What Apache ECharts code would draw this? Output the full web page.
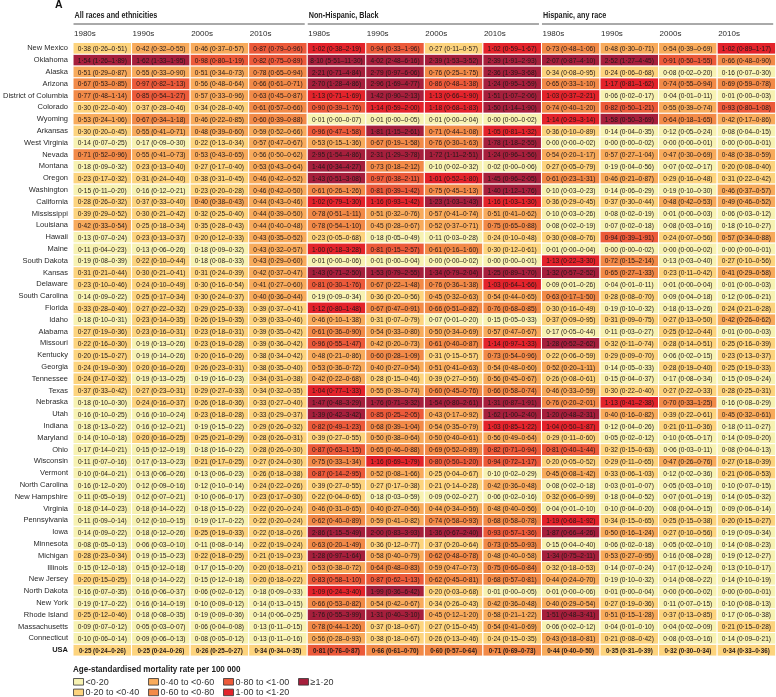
<!DOCTYPE html>
<html><head><meta charset="utf-8">
<script src="https://cdn.jsdelivr.net/npm/echarts@6/dist/echarts.min.js"></script>
<style>html,body{margin:0;padding:0;background:#fff}#c{width:776px;height:697px}</style>
</head><body><div id="c"></div>
<script>
const states = ['New Mexico','Oklahoma','Alaska','Arizona','District of Columbia','Colorado','Wyoming','Arkansas','West Virginia','Nevada','Montana','Oregon','Washington','California','Mississippi','Louisiana','Hawaii','Maine','South Dakota','Kansas','Delaware','South Carolina','Florida','Idaho','Alabama','Missouri','Kentucky','Georgia','Tennessee','Texas','Nebraska','Utah','Indiana','Maryland','Ohio','Wisconsin','Vermont','North Carolina','New Hampshire','Virginia','Pennsylvania','Iowa','Minnesota','Michigan','Illinois','New Jersey','North Dakota','New York','Rhode Island','Massachusetts','Connecticut','USA'];
const groups = ['All races and ethnicities','Non-Hispanic, Black','Hispanic, any race'];
const decades = ['1980s','1990s','2000s','2010s'];
// each row: [est, lo, hi] x 4 decades
const allRaces = [
[0.38,0.26,0.51, 0.42,0.32,0.55, 0.46,0.37,0.57, 0.87,0.79,0.96],
[1.54,1.26,1.89, 1.62,1.33,1.95, 0.98,0.80,1.19, 0.82,0.75,0.89],
[0.51,0.29,0.87, 0.55,0.33,0.90, 0.51,0.34,0.73, 0.78,0.65,0.94],
[0.67,0.53,0.85, 0.97,0.82,1.13, 0.56,0.48,0.64, 0.66,0.61,0.71],
[0.77,0.48,1.14, 0.85,0.54,1.27, 0.57,0.33,0.96, 0.63,0.45,0.87],
[0.30,0.22,0.40, 0.37,0.28,0.46, 0.34,0.28,0.40, 0.61,0.57,0.66],
[0.53,0.24,1.06, 0.67,0.34,1.18, 0.46,0.22,0.85, 0.60,0.39,0.88],
[0.30,0.20,0.45, 0.55,0.41,0.71, 0.48,0.39,0.60, 0.59,0.52,0.66],
[0.14,0.07,0.25, 0.17,0.09,0.30, 0.22,0.13,0.34, 0.57,0.47,0.67],
[0.71,0.52,0.96, 0.55,0.41,0.73, 0.53,0.43,0.65, 0.56,0.50,0.62],
[0.18,0.09,0.32, 0.23,0.13,0.40, 0.27,0.17,0.40, 0.53,0.43,0.64],
[0.23,0.17,0.32, 0.31,0.24,0.40, 0.38,0.31,0.45, 0.46,0.42,0.52],
[0.15,0.11,0.20, 0.16,0.12,0.21, 0.23,0.20,0.28, 0.46,0.42,0.50],
[0.28,0.26,0.32, 0.37,0.33,0.40, 0.40,0.38,0.43, 0.44,0.43,0.46],
[0.39,0.29,0.52, 0.30,0.21,0.42, 0.32,0.25,0.40, 0.44,0.39,0.50],
[0.42,0.33,0.54, 0.25,0.18,0.34, 0.35,0.28,0.43, 0.44,0.40,0.48],
[0.13,0.07,0.24, 0.23,0.13,0.37, 0.20,0.12,0.33, 0.43,0.35,0.52],
[0.11,0.04,0.23, 0.13,0.06,0.26, 0.18,0.09,0.32, 0.43,0.32,0.57],
[0.19,0.08,0.39, 0.22,0.10,0.44, 0.18,0.08,0.33, 0.43,0.29,0.60],
[0.31,0.21,0.44, 0.30,0.21,0.41, 0.31,0.24,0.39, 0.42,0.37,0.47],
[0.23,0.10,0.46, 0.24,0.10,0.49, 0.30,0.16,0.54, 0.41,0.27,0.60],
[0.14,0.09,0.22, 0.25,0.17,0.34, 0.30,0.24,0.37, 0.40,0.36,0.44],
[0.33,0.28,0.40, 0.27,0.22,0.32, 0.29,0.25,0.33, 0.39,0.37,0.41],
[0.18,0.10,0.31, 0.23,0.14,0.35, 0.26,0.19,0.35, 0.39,0.33,0.46],
[0.27,0.19,0.36, 0.23,0.16,0.31, 0.23,0.18,0.31, 0.39,0.35,0.42],
[0.22,0.16,0.30, 0.19,0.13,0.26, 0.23,0.19,0.28, 0.39,0.36,0.42],
[0.20,0.15,0.27, 0.19,0.14,0.26, 0.20,0.16,0.26, 0.38,0.34,0.42],
[0.24,0.19,0.30, 0.20,0.16,0.26, 0.26,0.23,0.31, 0.38,0.35,0.40],
[0.24,0.17,0.32, 0.19,0.13,0.25, 0.19,0.16,0.23, 0.34,0.31,0.38],
[0.37,0.33,0.42, 0.27,0.23,0.31, 0.29,0.27,0.33, 0.34,0.32,0.35],
[0.18,0.10,0.30, 0.24,0.16,0.37, 0.26,0.18,0.36, 0.33,0.27,0.40],
[0.16,0.10,0.25, 0.16,0.10,0.24, 0.23,0.18,0.28, 0.33,0.29,0.37],
[0.18,0.13,0.22, 0.16,0.12,0.21, 0.19,0.15,0.22, 0.29,0.26,0.32],
[0.14,0.10,0.18, 0.20,0.16,0.25, 0.25,0.21,0.29, 0.28,0.26,0.31],
[0.17,0.14,0.21, 0.15,0.12,0.19, 0.18,0.16,0.22, 0.28,0.26,0.30],
[0.11,0.07,0.16, 0.17,0.13,0.23, 0.21,0.17,0.25, 0.27,0.24,0.30],
[0.10,0.04,0.21, 0.13,0.06,0.26, 0.13,0.06,0.23, 0.26,0.18,0.38],
[0.16,0.12,0.20, 0.12,0.09,0.16, 0.12,0.10,0.14, 0.24,0.22,0.26],
[0.11,0.05,0.19, 0.12,0.07,0.21, 0.10,0.06,0.17, 0.23,0.17,0.30],
[0.18,0.14,0.23, 0.18,0.14,0.22, 0.18,0.15,0.22, 0.22,0.20,0.24],
[0.11,0.09,0.14, 0.12,0.10,0.15, 0.19,0.17,0.22, 0.22,0.20,0.24],
[0.14,0.09,0.22, 0.18,0.12,0.26, 0.25,0.19,0.33, 0.22,0.18,0.26],
[0.08,0.05,0.13, 0.06,0.03,0.10, 0.11,0.08,0.14, 0.22,0.19,0.24],
[0.28,0.23,0.34, 0.19,0.15,0.23, 0.22,0.18,0.25, 0.21,0.19,0.23],
[0.15,0.12,0.18, 0.15,0.12,0.18, 0.17,0.15,0.20, 0.20,0.18,0.21],
[0.20,0.15,0.25, 0.18,0.14,0.22, 0.15,0.12,0.18, 0.20,0.18,0.22],
[0.16,0.07,0.35, 0.16,0.06,0.37, 0.06,0.02,0.12, 0.18,0.09,0.33],
[0.19,0.17,0.22, 0.16,0.14,0.19, 0.10,0.09,0.12, 0.14,0.13,0.15],
[0.25,0.12,0.46, 0.18,0.08,0.35, 0.19,0.09,0.36, 0.14,0.06,0.25],
[0.09,0.07,0.12, 0.05,0.03,0.07, 0.06,0.04,0.08, 0.13,0.11,0.15],
[0.10,0.06,0.14, 0.09,0.06,0.13, 0.08,0.05,0.12, 0.13,0.11,0.16],
[0.25,0.24,0.26, 0.25,0.24,0.26, 0.26,0.25,0.27, 0.34,0.34,0.35]
];
const nhBlack = [
[1.02,0.38,2.19, 0.94,0.33,1.96, 0.27,0.11,0.57, 1.02,0.59,1.67],
[8.10,5.51,11.30, 4.02,2.48,6.16, 2.39,1.53,3.52, 2.39,1.91,2.93],
[2.21,0.71,4.84, 2.79,0.97,6.06, 0.76,0.25,1.75, 2.36,1.39,3.68],
[2.70,1.28,4.86, 2.96,1.69,4.77, 0.86,0.48,1.38, 1.24,0.95,1.59],
[1.13,0.71,1.69, 1.42,0.90,2.13, 1.13,0.66,1.90, 1.51,1.07,2.06],
[0.90,0.39,1.76, 1.14,0.59,2.00, 1.18,0.68,1.83, 1.50,1.14,1.90],
[0.01,0.00,0.07, 0.01,0.00,0.05, 0.01,0.00,0.04, 0.00,0.00,0.02],
[0.96,0.47,1.58, 1.81,1.15,2.61, 0.71,0.44,1.08, 1.05,0.81,1.32],
[0.53,0.15,1.36, 0.67,0.19,1.58, 0.76,0.30,1.63, 1.78,1.18,2.55],
[2.95,1.54,4.86, 2.31,1.29,3.78, 1.72,1.11,2.51, 1.24,0.96,1.56],
[1.44,0.34,4.27, 0.73,0.18,2.12, 0.10,0.02,0.32, 0.02,0.00,0.06],
[1.43,0.51,3.08, 0.97,0.38,2.11, 1.01,0.52,1.80, 1.45,0.96,2.05],
[0.61,0.26,1.26, 0.81,0.39,1.42, 0.75,0.45,1.13, 1.40,1.12,1.76],
[1.02,0.79,1.30, 1.16,0.93,1.42, 1.23,1.03,1.43, 1.16,1.03,1.30],
[0.78,0.51,1.11, 0.51,0.32,0.76, 0.57,0.41,0.74, 0.51,0.41,0.62],
[0.78,0.54,1.10, 0.45,0.28,0.67, 0.52,0.37,0.71, 0.75,0.65,0.88],
[0.23,0.05,0.68, 0.18,0.05,0.49, 0.11,0.03,0.28, 0.24,0.10,0.48],
[1.00,0.18,3.28, 0.81,0.15,2.57, 0.61,0.16,1.60, 0.30,0.12,0.61],
[0.01,0.00,0.06, 0.01,0.00,0.04, 0.00,0.00,0.02, 0.00,0.00,0.01],
[1.43,0.71,2.50, 1.53,0.79,2.55, 1.34,0.79,2.04, 1.25,0.89,1.70],
[0.81,0.30,1.76, 0.67,0.22,1.48, 0.76,0.36,1.38, 1.03,0.64,1.66],
[0.19,0.09,0.34, 0.36,0.20,0.56, 0.45,0.32,0.63, 0.54,0.44,0.65],
[1.12,0.80,1.48, 0.67,0.47,0.91, 0.66,0.51,0.82, 0.76,0.68,0.85],
[0.46,0.10,1.38, 0.31,0.07,0.79, 0.07,0.01,0.20, 0.15,0.05,0.33],
[0.61,0.36,0.90, 0.54,0.33,0.80, 0.50,0.34,0.69, 0.57,0.47,0.67],
[0.96,0.55,1.47, 0.42,0.20,0.73, 0.61,0.40,0.87, 1.14,0.97,1.33],
[0.48,0.21,0.86, 0.60,0.28,1.09, 0.31,0.15,0.57, 0.73,0.54,0.96],
[0.53,0.36,0.72, 0.40,0.27,0.54, 0.51,0.41,0.63, 0.54,0.48,0.60],
[0.42,0.22,0.68, 0.28,0.15,0.46, 0.39,0.27,0.56, 0.56,0.45,0.67],
[1.04,0.77,1.33, 0.55,0.39,0.74, 0.60,0.45,0.76, 0.66,0.58,0.74],
[1.47,0.48,3.29, 1.76,0.71,3.32, 1.54,0.80,2.61, 1.31,0.87,1.91],
[1.39,0.42,3.42, 0.85,0.25,2.05, 0.43,0.17,0.92, 1.62,1.00,2.40],
[0.82,0.49,1.23, 0.68,0.39,1.04, 0.54,0.35,0.79, 1.03,0.85,1.22],
[0.39,0.27,0.55, 0.50,0.38,0.64, 0.50,0.40,0.61, 0.56,0.49,0.64],
[0.87,0.63,1.15, 0.65,0.46,0.88, 0.69,0.52,0.89, 0.82,0.71,0.94],
[0.75,0.33,1.34, 1.16,0.69,1.79, 0.80,0.50,1.20, 0.94,0.72,1.17],
[0.87,0.14,2.95, 0.52,0.08,1.66, 0.25,0.04,0.67, 0.10,0.02,0.29],
[0.39,0.27,0.55, 0.27,0.17,0.38, 0.21,0.14,0.28, 0.42,0.36,0.48],
[0.22,0.04,0.65, 0.18,0.03,0.59, 0.09,0.02,0.27, 0.06,0.02,0.16],
[0.46,0.31,0.65, 0.40,0.27,0.56, 0.44,0.34,0.56, 0.48,0.40,0.56],
[0.62,0.40,0.89, 0.59,0.41,0.82, 0.74,0.58,0.93, 0.68,0.58,0.78],
[2.86,1.15,5.49, 2.00,0.83,3.93, 1.36,0.67,2.40, 0.93,0.57,1.36],
[0.63,0.20,1.49, 0.36,0.12,0.77, 0.37,0.20,0.64, 0.73,0.55,0.93],
[1.28,0.97,1.64, 0.58,0.40,0.79, 0.62,0.48,0.78, 0.48,0.40,0.58],
[0.53,0.38,0.72, 0.64,0.48,0.83, 0.59,0.47,0.73, 0.75,0.66,0.84],
[0.83,0.58,1.10, 0.87,0.62,1.13, 0.62,0.45,0.81, 0.68,0.57,0.81],
[1.09,0.24,3.40, 1.99,0.36,6.42, 0.20,0.03,0.68, 0.01,0.00,0.05],
[0.66,0.53,0.82, 0.54,0.42,0.67, 0.34,0.26,0.43, 0.42,0.36,0.48],
[1.76,0.55,3.99, 1.31,0.40,3.10, 0.45,0.12,1.20, 0.58,0.21,1.22],
[0.78,0.44,1.26, 0.37,0.18,0.67, 0.27,0.15,0.45, 0.54,0.41,0.69],
[0.56,0.28,0.93, 0.38,0.18,0.67, 0.26,0.13,0.46, 0.24,0.15,0.35],
[0.81,0.76,0.87, 0.66,0.61,0.70, 0.60,0.57,0.64, 0.71,0.69,0.73]
];
const hispanic = [
[0.73,0.48,1.06, 0.48,0.30,0.71, 0.54,0.39,0.69, 1.02,0.89,1.17],
[2.07,0.87,4.10, 2.52,1.27,4.45, 0.91,0.50,1.55, 0.66,0.48,0.90],
[0.34,0.08,0.95, 0.24,0.06,0.68, 0.08,0.02,0.20, 0.16,0.07,0.30],
[0.65,0.33,1.10, 1.17,0.81,1.62, 0.74,0.55,0.94, 0.69,0.59,0.78],
[1.03,0.37,2.21, 0.06,0.02,0.17, 0.04,0.01,0.11, 0.01,0.00,0.03],
[0.74,0.40,1.20, 0.82,0.50,1.21, 0.55,0.39,0.74, 0.93,0.80,1.08],
[1.14,0.29,3.14, 1.58,0.50,3.69, 0.64,0.18,1.65, 0.42,0.17,0.86],
[0.36,0.10,0.89, 0.14,0.04,0.35, 0.12,0.05,0.24, 0.08,0.04,0.15],
[0.00,0.00,0.02, 0.00,0.00,0.02, 0.00,0.00,0.01, 0.00,0.00,0.01],
[0.54,0.20,1.17, 0.57,0.27,1.04, 0.47,0.30,0.69, 0.48,0.38,0.59],
[0.27,0.05,0.79, 0.19,0.04,0.56, 0.07,0.02,0.17, 0.20,0.08,0.40],
[0.61,0.23,1.31, 0.46,0.21,0.87, 0.29,0.16,0.48, 0.31,0.22,0.42],
[0.10,0.03,0.23, 0.14,0.06,0.29, 0.19,0.10,0.30, 0.46,0.37,0.57],
[0.36,0.29,0.45, 0.37,0.30,0.44, 0.48,0.42,0.53, 0.49,0.46,0.52],
[0.10,0.03,0.26, 0.08,0.02,0.19, 0.01,0.00,0.03, 0.06,0.03,0.12],
[0.08,0.02,0.19, 0.07,0.02,0.18, 0.08,0.03,0.16, 0.18,0.10,0.27],
[0.30,0.08,0.76, 0.94,0.39,1.91, 0.24,0.07,0.56, 0.57,0.34,0.88],
[0.01,0.00,0.04, 0.00,0.00,0.02, 0.00,0.00,0.02, 0.00,0.00,0.01],
[1.13,0.22,3.30, 0.72,0.15,2.14, 0.13,0.03,0.40, 0.27,0.10,0.56],
[1.32,0.57,2.52, 0.65,0.27,1.33, 0.23,0.11,0.42, 0.41,0.29,0.58],
[0.09,0.01,0.26, 0.04,0.01,0.11, 0.01,0.00,0.04, 0.01,0.00,0.03],
[0.63,0.17,1.50, 0.28,0.08,0.70, 0.09,0.04,0.18, 0.12,0.06,0.21],
[0.30,0.16,0.49, 0.19,0.10,0.32, 0.18,0.13,0.26, 0.24,0.21,0.28],
[0.37,0.09,0.95, 0.31,0.09,0.75, 0.27,0.13,0.50, 0.42,0.26,0.62],
[0.17,0.05,0.44, 0.11,0.03,0.27, 0.25,0.12,0.44, 0.01,0.00,0.03],
[1.28,0.52,2.62, 0.32,0.11,0.74, 0.28,0.14,0.51, 0.25,0.16,0.39],
[0.22,0.06,0.59, 0.29,0.09,0.70, 0.06,0.02,0.15, 0.23,0.13,0.37],
[0.52,0.20,1.11, 0.14,0.05,0.33, 0.28,0.19,0.40, 0.25,0.19,0.33],
[0.26,0.08,0.61, 0.15,0.04,0.37, 0.17,0.08,0.34, 0.15,0.09,0.24],
[0.46,0.33,0.59, 0.30,0.22,0.40, 0.27,0.22,0.33, 0.28,0.25,0.31],
[0.76,0.20,2.01, 1.13,0.41,2.38, 0.70,0.33,1.25, 0.16,0.08,0.29],
[1.20,0.48,2.31, 0.40,0.16,0.82, 0.39,0.22,0.61, 0.45,0.32,0.61],
[1.04,0.50,1.87, 0.12,0.04,0.26, 0.21,0.11,0.36, 0.18,0.11,0.27],
[0.29,0.11,0.60, 0.05,0.02,0.12, 0.10,0.05,0.17, 0.14,0.09,0.20],
[0.81,0.40,1.44, 0.32,0.15,0.63, 0.06,0.03,0.11, 0.08,0.04,0.13],
[0.20,0.05,0.52, 0.29,0.11,0.65, 0.47,0.26,0.76, 0.27,0.18,0.39],
[0.45,0.08,1.42, 0.33,0.06,1.03, 0.12,0.02,0.36, 0.21,0.06,0.53],
[0.08,0.02,0.18, 0.03,0.01,0.07, 0.05,0.03,0.10, 0.10,0.07,0.15],
[0.32,0.06,0.99, 0.18,0.04,0.52, 0.07,0.01,0.19, 0.14,0.05,0.32],
[0.04,0.01,0.10, 0.10,0.04,0.20, 0.08,0.04,0.15, 0.09,0.06,0.14],
[1.19,0.68,1.92, 0.34,0.15,0.65, 0.25,0.15,0.38, 0.20,0.15,0.27],
[1.87,0.66,4.26, 0.50,0.16,1.24, 0.27,0.10,0.56, 0.19,0.09,0.34],
[0.15,0.04,0.40, 0.06,0.02,0.18, 0.05,0.02,0.10, 0.14,0.08,0.23],
[1.34,0.75,2.11, 0.53,0.27,0.95, 0.16,0.08,0.28, 0.19,0.12,0.27],
[0.32,0.18,0.53, 0.14,0.07,0.24, 0.17,0.12,0.24, 0.13,0.10,0.17],
[0.44,0.24,0.70, 0.19,0.10,0.32, 0.14,0.08,0.22, 0.14,0.10,0.19],
[0.01,0.00,0.06, 0.01,0.00,0.04, 0.00,0.00,0.02, 0.00,0.00,0.01],
[0.40,0.29,0.54, 0.27,0.19,0.36, 0.11,0.07,0.15, 0.10,0.08,0.13],
[1.51,0.48,3.41, 0.51,0.15,1.28, 0.37,0.13,0.85, 0.17,0.06,0.38],
[0.06,0.02,0.12, 0.04,0.01,0.10, 0.04,0.02,0.09, 0.21,0.15,0.28],
[0.43,0.18,0.81, 0.21,0.08,0.42, 0.08,0.03,0.16, 0.14,0.09,0.21],
[0.44,0.40,0.50, 0.35,0.31,0.39, 0.32,0.30,0.34, 0.34,0.33,0.36]
];
const legendTitle = 'Age-standardised mortality rate per 100 000';
const thresholds = [0.2, 0.4, 0.6, 0.8, 1.0, 1.2];
const legendLabels = ['<0·20','0·20 to <0·40','0·40 to <0·60','0·60 to <0·80','0·80 to <1·00','1·00 to <1·20','≥1·20'];
const classColors = ['#f7f2b2','#fdd47e','#f8ab5c','#f28a48','#ec5a3a','#e3232b','#a61f3c'];

const FONT = "'Liberation Sans',Arial,sans-serif";
const NARROW = 0.82;
const fmt = n => n.toFixed(2).replace('.', '·');

const tables = [allRaces, nhBlack, hispanic];
const xCats = [];
groups.forEach(g => decades.forEach(d => xCats.push(g + ' ' + d)));
const data = [];
tables.forEach((t, g) => {
  t.forEach((row, r) => {
    for (let d = 0; d < 4; d++) data.push([g * 4 + d, r, row[d * 3], row[d * 3 + 1], row[d * 3 + 2]]);
  });
});
const pieces = classColors.map((c, i) => {
  const p = {color: c};
  if (i > 0) p.gte = thresholds[i - 1];
  if (i < thresholds.length) p.lt = thresholds[i];
  return p;
});

const chart = echarts.init(document.getElementById('c'), null, {renderer: 'canvas'});
const option = {
  animation: false,
  textStyle: {fontFamily: FONT},
  grid: {left: 67.7, right: 0.3, top: 42.5, bottom: 40.9, containLabel: false},
  xAxis: [
    {type: 'category', data: xCats, show: false},
    {type: 'value', min: 0, max: 12, interval: 1, position: 'top',
      axisLine: {show: false}, axisTick: {show: false}, splitLine: {show: false},
      axisLabel: {show: true, showMaxLabel: false, align: 'left', margin: 5, padding: [0,0,0,1],
        fontSize: 8, color: '#2a2a2a', fontFamily: FONT,
        formatter: v => v < 12 ? decades[v % 4] : ''}}
  ],
  yAxis: {type: 'category', data: states, inverse: true,
    axisLine: {show: false}, axisTick: {show: false}, splitLine: {show: false},
    axisLabel: {fontSize: 7.5, color: '#2a2a2a', margin: 5, fontFamily: FONT,
      formatter: v => v === 'USA' ? '{b|USA}' : v,
      rich: {b: {fontWeight: 'bold', fontSize: 7.5, color: '#1a1a1a', fontFamily: FONT}}}},
  visualMap: {type: 'piecewise', show: false, dimension: 2, seriesIndex: 0, pieces: pieces},
  series: [{
    type: 'custom', xAxisIndex: 0, yAxisIndex: 0, data: data,
    encode: {x: 0, y: 1},
    renderItem: (params, api) => {
      const xi = api.value(0), yi = api.value(1);
      const c = api.coord([xi, yi]);
      const s = api.size([1, 1]);
      const bold = states[yi] === 'USA';
      const txt = fmt(api.value(2)) + ' (' + fmt(api.value(3)) + '–' + fmt(api.value(4)) + ')';
      return {type: 'group', children: [
        {type: 'rect', shape: {x: c[0] - s[0] / 2, y: c[1] - s[1] / 2, width: s[0], height: s[1]},
          style: {fill: api.visual('color'), stroke: '#ffffff', lineWidth: 1}},
        {type: 'text', x: c[0], y: c[1] + 0.3, scaleX: bold ? 0.78 : NARROW,
          style: {text: txt, fontSize: 8, fontFamily: FONT, fontWeight: bold ? 'bold' : 'normal',
            fill: '#221818', align: 'center', verticalAlign: 'middle'}}
      ]};
    }
  }]
};
chart.setOption(option);

// group headers, underlines and legend, positioned through the axis scale
const gr = [];
gr.push({type: 'text', x: 55, y: 5.5, style: {text: 'A', font: 'bold 10.5px ' + FONT, fill: '#111', verticalAlign: 'middle'}});
for (let g = 0; g < 3; g++) {
  const x0 = chart.convertToPixel({xAxisIndex: 1}, g * 4);
  const x1 = chart.convertToPixel({xAxisIndex: 1}, g * 4 + 4);
  gr.push({type: 'text', x: x0 + 1.5, y: 15.8, scaleX: 0.84,
    style: {text: groups[g], font: 'bold 8.6px ' + FONT, fill: '#222', verticalAlign: 'middle'}});
  gr.push({type: 'line', shape: {x1: x0 + 0.5, y1: 24, x2: x1 - 2.5, y2: 24}, style: {stroke: '#555', lineWidth: 1}});
}
const lx = chart.convertToPixel({xAxisIndex: 1}, 0);
gr.push({type: 'text', x: lx, y: 669, scaleX: 0.84, style: {text: legendTitle, font: 'bold 9.6px ' + FONT, fill: '#222', verticalAlign: 'middle'}});
legendLabels.forEach((lab, i) => {
  const col = Math.floor(i / 2), row = i % 2;
  const x = lx + col * 75, y = 681.8 + row * 10.6;
  gr.push({type: 'rect', shape: {x: x + 0.5, y: y - 3.3, width: 10, height: 6.6}, style: {fill: classColors[i], stroke: '#333', lineWidth: 0.8}});
  gr.push({type: 'text', x: x + 12.5, y: y + 0.3, style: {text: lab, font: '9px ' + FONT, fill: '#333', verticalAlign: 'middle'}});
});
chart.setOption({graphic: gr});
</script></body></html>
